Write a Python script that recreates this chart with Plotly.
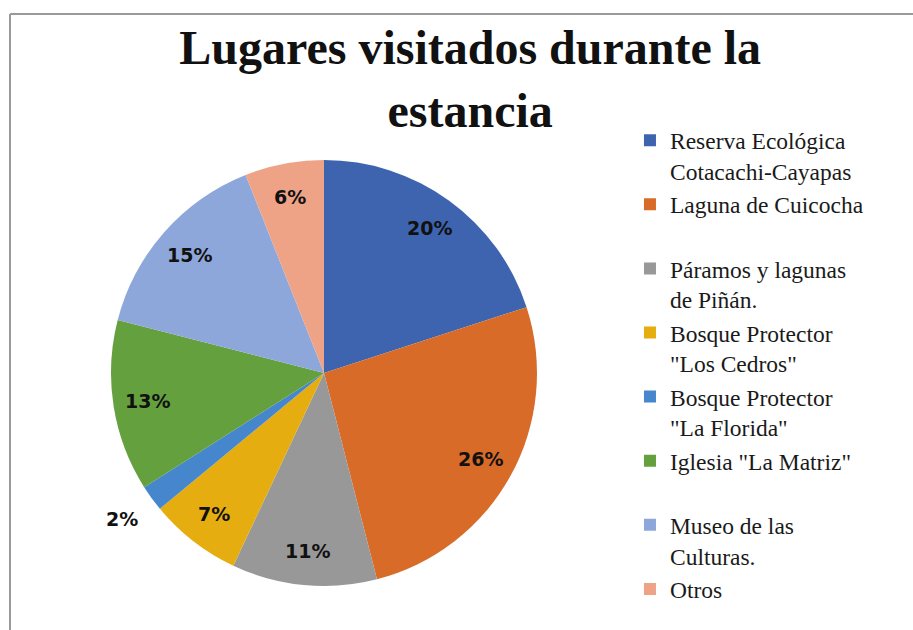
import math
import plotly.graph_objects as go

categories = [
    "Reserva Ecológica Cotacachi-Cayapas",
    "Laguna de Cuicocha",
    "Páramos y lagunas de Piñán.",
    'Bosque Protector "Los Cedros"',
    'Bosque Protector "La Florida"',
    'Iglesia "La Matriz"',
    "Museo de las Culturas.",
    "Otros",
]
legend_labels = [
    "Reserva Ecológica<br>Cotacachi-Cayapas",
    "Laguna de Cuicocha<br>\u00a0",
    "Páramos y lagunas<br>de Piñán.",
    'Bosque Protector<br>"Los Cedros"',
    'Bosque Protector<br>"La Florida"',
    'Iglesia "La Matriz"<br>\u00a0',
    "Museo de las<br>Culturas.",
    "Otros",
]
values = [20, 26, 11, 7, 2, 13, 15, 6]
label_outside = [False, False, False, False, True, False, False, False]
colors = ["#3E64AF", "#D96B28", "#989898", "#E5AD10", "#4686CC", "#64A03D", "#8DA7DA", "#EFA386"]

W, H = 913, 630
# pie geometry (pixels)
CX, CY, R = 324, 373, 213
dom_x = [(CX - R) / W, (CX + R) / W]
dom_y = [(H - CY - R) / H, (H - CY + R) / H]

fig = go.Figure(
    go.Pie(
        labels=legend_labels,
        values=values,
        sort=False,
        direction="clockwise",
        rotation=0,
        marker=dict(colors=colors, line=dict(width=0)),
        textinfo="none",
        domain=dict(x=dom_x, y=dom_y),
        hovertext=categories,
        hoverinfo="text+percent",
    )
)

# percentage labels placed from the data (mid-angle of each slice)
total = sum(values)
annotations = []
cum = 0
for v, out in zip(values, label_outside):
    mid = (cum + v / 2) / total * 2 * math.pi
    cum += v
    frac = 1.17 if out else 0.84
    px = CX + R * frac * math.sin(mid)
    py = CY - R * frac * math.cos(mid)
    annotations.append(
        dict(
            x=px / W,
            y=1 - py / H,
            xref="paper",
            yref="paper",
            text=f"{round(v / total * 100)}%",
            showarrow=False,
            xanchor="center",
            yanchor="middle",
            font=dict(family="DejaVu Sans", size=19, color="#111111", weight="bold"),
        )
    )

fig.update_layout(
    width=W,
    height=H,
    margin=dict(l=0, r=0, t=0, b=0),
    paper_bgcolor="white",
    plot_bgcolor="white",
    title=dict(
        text="Lugares visitados durante la<br>estancia",
        x=0.515,
        xanchor="center",
        y=0.898,
        yanchor="top",
        font=dict(family="Liberation Serif", size=48, color="#111111", weight="bold"),
    ),
    legend=dict(
        x=0.69,
        xanchor="left",
        y=0.812,
        yanchor="top",
        valign="top",
        font=dict(family="Liberation Serif", size=23.5, color="#1a1a1a"),
        itemwidth=30,
        tracegroupgap=0,
        bgcolor="rgba(0,0,0,0)",
    ),
    annotations=annotations,
    shapes=[
        dict(type="line", xref="paper", yref="paper", x0=10 / W, x1=1, y0=1 - 14 / H, y1=1 - 14 / H,
             line=dict(color="#9A9A9A", width=2)),
        dict(type="line", xref="paper", yref="paper", x0=10 / W, x1=10 / W, y0=0, y1=1 - 14 / H,
             line=dict(color="#9A9A9A", width=2)),
    ],
)

fig.write_html(
    "out.html",
    config={"displayModeBar": False},
    post_script="document.body.style.margin='0';document.body.style.overflow='hidden';",
)
